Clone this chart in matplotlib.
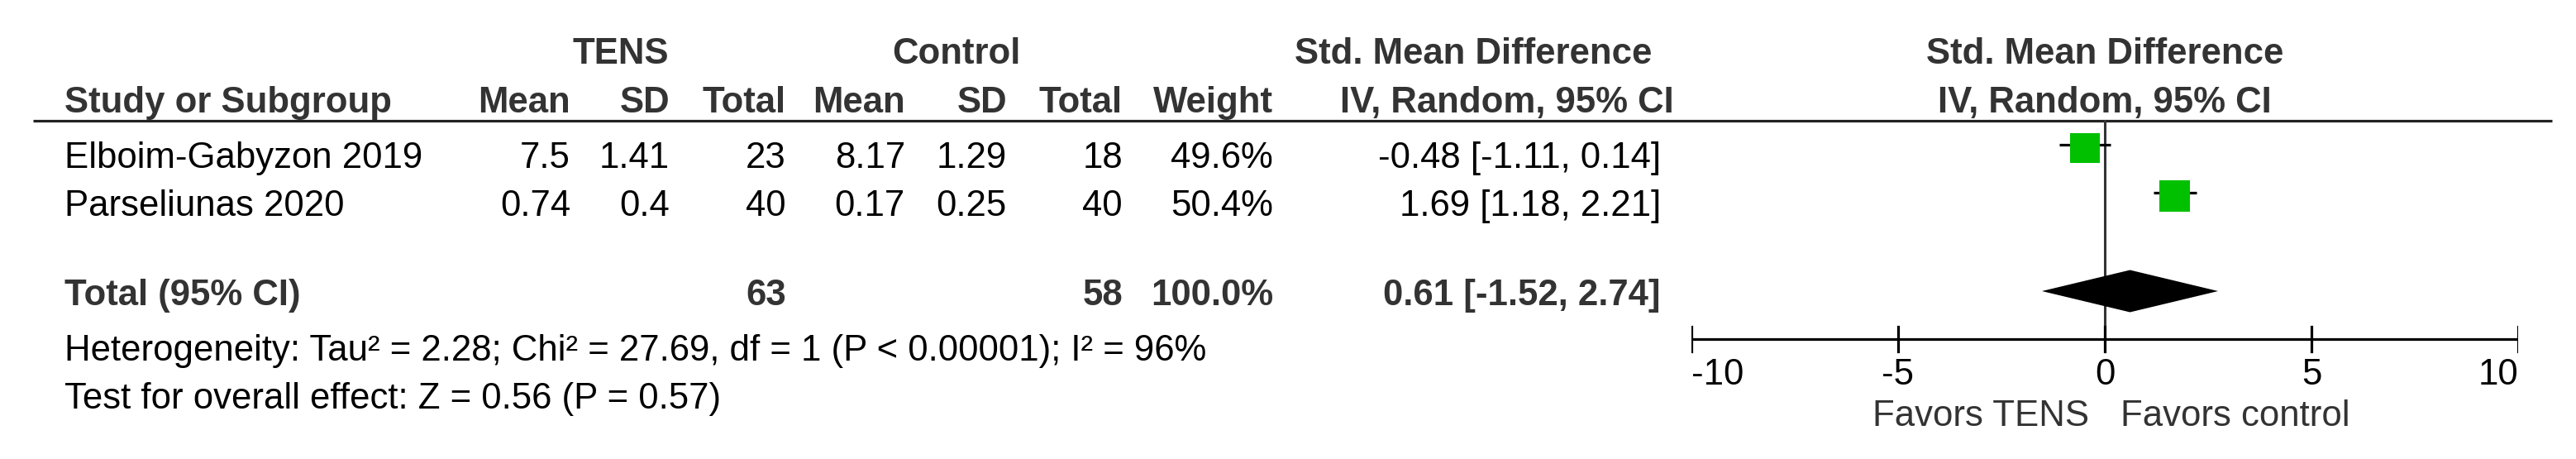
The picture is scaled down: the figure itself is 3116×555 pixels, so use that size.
import numpy as np
import matplotlib
matplotlib.use("Agg")
import matplotlib.pyplot as plt
from matplotlib.patches import Rectangle, Polygon

plt.rcParams['font.family'] = ['Liberation Sans', 'DejaVu Sans']

# Study data
studies = ['Elboim-Gabyzon 2019', 'Parseliunas 2020']
tens_mean = [7.5, 0.74]
tens_sd = [1.41, 0.4]
tens_n = [23, 40]
ctrl_mean = [8.17, 0.17]
ctrl_sd = [1.29, 0.25]
ctrl_n = [18, 40]
weights = [49.6, 50.4]
smd = [-0.48, 1.69]
ci_low = [-1.11, 1.18]
ci_high = [0.14, 2.21]

# Pooled result
total_tens_n = 63
total_ctrl_n = 58
total_weight = 100.0
pooled = 0.61
pooled_low = -1.52
pooled_high = 2.74

heterogeneity = 'Heterogeneity: Tau² = 2.28; Chi² = 27.69, df = 1 (P < 0.00001); I² = 96%'
overall = 'Test for overall effect: Z = 0.56 (P = 0.57)'
x_ticks = [-10, -5, 0, 5, 10]
favors_left = 'Favors TENS'
favors_right = 'Favors control'

W, H = 3116, 555
fig = plt.figure(figsize=(W / 100, H / 100), dpi=100)

# table axes in pixel units (y downwards)
ax = fig.add_axes([0, 0, 1, 1])
ax.set_xlim(0, W)
ax.set_ylim(H, 0)
ax.axis('off')

# forest plot axes: -10 .. 10 mapped onto its own strip
fp = fig.add_axes([2046 / W, 0, 1000 / W, 1])
fp.set_xlim(-10, 10)
fp.set_ylim(H, 0)
fp.axis('off')

fs = 31.5
hdr = '#333333'
bold = dict(fontsize=fs, fontweight='bold', color=hdr, va='baseline')
norm = dict(fontsize=fs, color='black', va='baseline')

# column right edges
col_x = {'tm': 690, 'ts': 810, 'tn': 951, 'cm': 1095, 'cs': 1218, 'cn': 1358,
         'w': 1540, 'ci': 2009}
left_x = 78

# header rows
y_h1, y_h2 = 77, 136
ax.text(751, y_h1, 'TENS', ha='center', **bold)
ax.text(1157, y_h1, 'Control', ha='center', **bold)
ax.text(1782, y_h1, 'Std. Mean Difference', ha='center', **bold)
ax.text(left_x, y_h2, 'Study or Subgroup', ha='left', **bold)
for key, lab in [('tm', 'Mean'), ('ts', 'SD'), ('tn', 'Total'),
                 ('cm', 'Mean'), ('cs', 'SD'), ('cn', 'Total'), ('w', 'Weight')]:
    ax.text(col_x[key], y_h2, lab, ha='right', **bold)
ax.text(2025, y_h2, 'IV, Random, 95% CI', ha='right', **bold)
fp.text(0, y_h1, 'Std. Mean Difference', ha='center', **bold)
fp.text(0, y_h2, 'IV, Random, 95% CI', ha='center', **bold)

ax.plot([40, 3087], [146, 146], color='#222222', lw=2.3, solid_capstyle='butt')

# study rows
row_base = [203, 261]
for i, name in enumerate(studies):
    y = row_base[i]
    ax.text(left_x, y, name, ha='left', **norm)
    ax.text(col_x['tm'], y, f'{tens_mean[i]:g}', ha='right', **norm)
    ax.text(col_x['ts'], y, f'{tens_sd[i]:g}', ha='right', **norm)
    ax.text(col_x['tn'], y, f'{tens_n[i]}', ha='right', **norm)
    ax.text(col_x['cm'], y, f'{ctrl_mean[i]:g}', ha='right', **norm)
    ax.text(col_x['cs'], y, f'{ctrl_sd[i]:g}', ha='right', **norm)
    ax.text(col_x['cn'], y, f'{ctrl_n[i]}', ha='right', **norm)
    ax.text(col_x['w'], y, f'{weights[i]:.1f}%', ha='right', **norm)
    ax.text(col_x['ci'], y, f'{smd[i]:.2f} [{ci_low[i]:.2f}, {ci_high[i]:.2f}]',
            ha='right', **norm)

    yc = y - 24
    fp.plot([ci_low[i], ci_high[i]], [yc - 4, yc - 4], color='black', lw=2.3,
            solid_capstyle='butt', zorder=3)
    side = 37 * np.sqrt(weights[i] / 50)
    wdat = side / 50.0
    fp.add_patch(Rectangle((smd[i] - wdat / 2, yc - side / 2), wdat, side,
                           facecolor='#00c000', edgecolor='none', zorder=4))

# total row
y_tot = 369
ax.text(left_x, y_tot, 'Total (95% CI)', ha='left', **bold)
ax.text(col_x['tn'], y_tot, f'{total_tens_n}', ha='right', **bold)
ax.text(col_x['cn'], y_tot, f'{total_ctrl_n}', ha='right', **bold)
ax.text(col_x['w'], y_tot, f'{total_weight:.1f}%', ha='right', **bold)
ax.text(col_x['ci'], y_tot, f'{pooled:.2f} [{pooled_low:.2f}, {pooled_high:.2f}]',
        ha='right', **bold)

yd = y_tot - 17
fp.add_patch(Polygon([(pooled_low, yd), (pooled, yd - 25.5), (pooled_high, yd),
                      (pooled, yd + 25.5)], closed=True, facecolor='black',
                     edgecolor='none', zorder=4))

ax.text(left_x, 436, heterogeneity, ha='left', **norm)
ax.text(left_x, 494, overall, ha='left', **norm)

# zero line and scale
y_axis = 410
fp.plot([0, 0], [146, y_axis + 14], color='#333333', lw=2.2, zorder=2)
fp.plot([x_ticks[0], x_ticks[-1]], [y_axis, y_axis], color='black', lw=2.3,
        solid_capstyle='butt')
for t in x_ticks:
    fp.plot([t, t], [y_axis - 15, y_axis + 15], color='black', lw=2.3)
    ha = 'center'
    if t == x_ticks[0]:
        ha = 'left'
    elif t == x_ticks[-1]:
        ha = 'right'
    fp.text(t, 465, f'{t}', ha=ha, **norm)

fp.text(-0.38, 515, favors_left, ha='right', fontsize=fs, color=hdr, va='baseline')
fp.text(0.38, 515, favors_right, ha='left', fontsize=fs, color=hdr, va='baseline')

fig.savefig('out.png', dpi=100, facecolor='white')
